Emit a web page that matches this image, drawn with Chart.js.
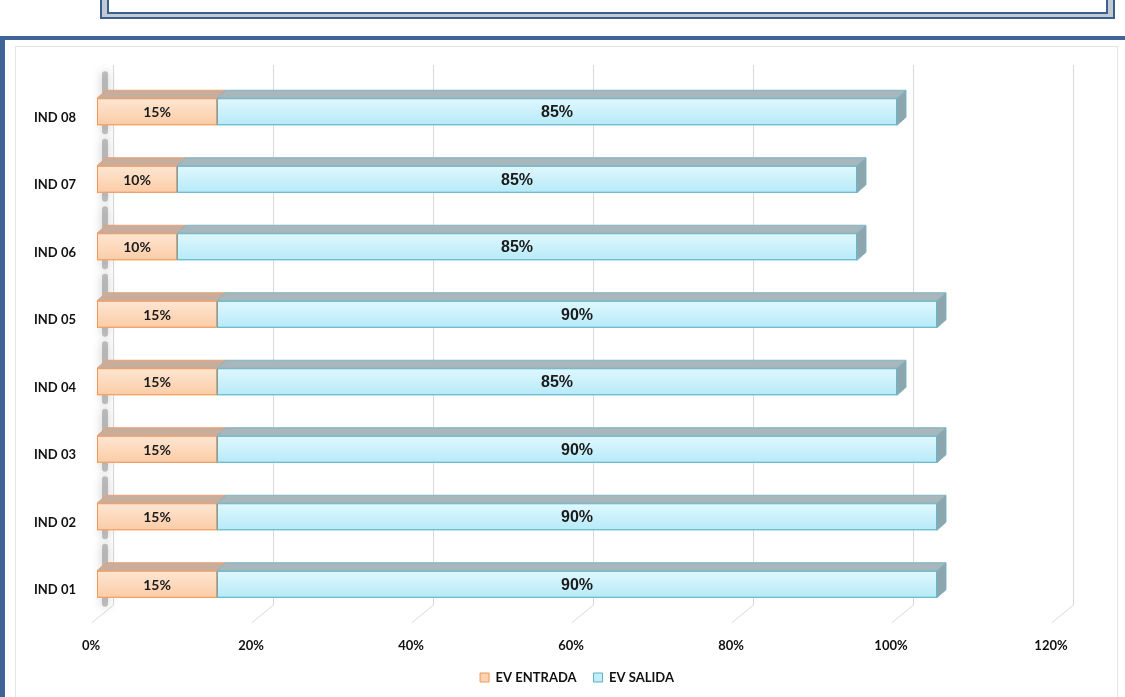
<!DOCTYPE html>
<html><head><meta charset="utf-8">
<script src="https://cdn.jsdelivr.net/npm/chart.js@4.4.0/dist/chart.umd.min.js"></script>
<style>
html,body{margin:0;padding:0;background:#fff;width:1125px;height:697px;overflow:hidden;position:relative}
#topbox{position:absolute;left:100px;top:-12px;width:1011px;height:27px;border:2px solid #3C5F92;background:#C3C9D2;}
#topinner{position:absolute;left:5px;right:5px;top:-2px;bottom:3px;border:2px solid #3C5F92;background:#fff}
#frame{position:absolute;left:0;top:36px;width:1130px;height:700px;border-top:4px solid #3F6498;border-left:5px solid #3F6498;box-sizing:border-box}
#plotborder{position:absolute;left:15px;top:46px;width:1101px;height:670px;border:1px solid #E4E4E4;}
#c{position:absolute;left:0;top:0}
</style>
</head><body>
<div id="topbox"><div id="topinner"></div></div>
<div id="frame"></div>
<div id="plotborder"></div>
<canvas id="c" width="1125" height="697"></canvas>
<script>
const categories = ['IND 01','IND 02','IND 03','IND 04','IND 05','IND 06','IND 07','IND 08'];
const evEntrada = [15,15,15,15,15,10,10,15];
const evSalida  = [90,90,90,85,90,85,85,85];
const seriesNames = ['EV ENTRADA','EV SALIDA'];
const xTickStep = 20;
const xMax = 120;

const DX = 9, DY = 8; // bar depth
const faceStyles = [
  {top:'#C8AC9C', topEdge:'#E5A274', end:'#B58E78', g0:'#FEE6D3', g1:'#FBCCA6', edge:'#F0975A',
   font:'bold 14px Lato', color:'#1b1b1b'},
  {top:'#A8B7BC', topEdge:'#7DB5C4', end:'#8DA6AD', g0:'#E0F8FE', g1:'#B6EAF8', edge:'#5AAFC6',
   font:'bold 16px "Liberation Sans", Arial', color:'#1b1b1b'}
];

const wall3d = {
  id:'wall3d',
  beforeDatasetsDraw(chart){
    const {ctx, chartArea:ca, scales:{x}} = chart;
    ctx.save();
    ctx.strokeStyle = '#D9D9D9';
    ctx.lineWidth = 1;
    for(let v=0; v<=xMax; v+=xTickStep){
      const xf = Math.round(x.getPixelForValue(v)) + 0.5;
      ctx.beginPath();
      ctx.moveTo(xf+16, ca.top-13);
      ctx.lineTo(xf+16, ca.bottom-13);
      ctx.lineTo(xf-6, ca.bottom+5);
      ctx.stroke();
    }
    const meta = chart.getDatasetMeta(0);
    ctx.strokeStyle = 'rgba(110,110,110,0.4)';
    ctx.shadowColor = 'rgba(70,70,70,0.75)';
    ctx.shadowBlur = 10;
    ctx.lineWidth = 6;
    ctx.lineCap = 'round';
    meta.data.forEach(el=>{
      const top = el.y - el.height/2;
      ctx.beginPath();
      ctx.moveTo(x.getPixelForValue(0)+8, top-24);
      ctx.lineTo(x.getPixelForValue(0)+8, top+el.height+6);
      ctx.stroke();
    });
    ctx.restore();
  },
  afterDatasetsDraw(chart){
    const {ctx} = chart;
    ctx.save();
    chart.data.datasets.forEach((ds, di)=>{
      const meta = chart.getDatasetMeta(di);
      const st = faceStyles[di];
      meta.data.forEach((el, i)=>{
        const x0 = Math.min(el.x, el.base), x1 = Math.max(el.x, el.base);
        const y0 = el.y - el.height/2, y1 = el.y + el.height/2;
        const g = ctx.createLinearGradient(0, y0, 0, y1);
        g.addColorStop(0, st.g0); g.addColorStop(1, st.g1);
        ctx.fillStyle = g;
        ctx.fillRect(x0, y0, x1-x0, y1-y0);
        ctx.strokeStyle = st.edge; ctx.lineWidth = 1;
        ctx.strokeRect(x0+0.5, y0+0.5, x1-x0-1, y1-y0-1);
        ctx.beginPath();
        ctx.moveTo(x0, y0); ctx.lineTo(x1, y0);
        ctx.lineTo(x1+DX, y0-DY); ctx.lineTo(x0+DX, y0-DY); ctx.closePath();
        ctx.fillStyle = st.top; ctx.fill();
        ctx.strokeStyle = st.topEdge; ctx.stroke();
        if(di === chart.data.datasets.length-1){
          ctx.beginPath();
          ctx.moveTo(x1, y0); ctx.lineTo(x1+DX, y0-DY);
          ctx.lineTo(x1+DX, y1-DY); ctx.lineTo(x1, y1); ctx.closePath();
          ctx.fillStyle = st.end; ctx.fill();
          ctx.strokeStyle = st.topEdge; ctx.stroke();
        }
        ctx.fillStyle = st.color;
        ctx.font = st.font;
        ctx.textAlign = 'center'; ctx.textBaseline = 'middle';
        ctx.fillText(ds.data[i] + '%', (x0+x1)/2, el.y+1);
      });
    });
    ctx.restore();
  }
};

const tickFont = {family:'Lato', weight:'bold', size:13};
new Chart(document.getElementById('c'), {
  type:'bar',
  data:{
    labels: categories,
    datasets:[
      {label:seriesNames[0], data:evEntrada, backgroundColor:'#FCD3B1', borderColor:'#F0975A', borderWidth:1, borderSkipped:false},
      {label:seriesNames[1], data:evSalida, backgroundColor:'#C4EEFA', borderColor:'#5AAFC6', borderWidth:1, borderSkipped:false}
    ]
  },
  options:{
    indexAxis:'y',
    responsive:false,
    animation:false,
    events:[],
    layout:{padding:{left:20, right:68, top:78, bottom:3}},
    datasets:{bar:{barPercentage:0.4, categoryPercentage:1}},
    scales:{
      x:{stacked:true, min:0, max:xMax,
         grid:{display:false, drawTicks:false}, border:{display:false},
         ticks:{stepSize:xTickStep, callback:v=>v+'%', font:tickFont, color:'#111', padding:20, labelOffset:-6},
         afterFit(s){ s.height = 36; }},
      y:{stacked:true, reverse:true,
         grid:{display:false, drawTicks:false}, border:{display:false},
         ticks:{font:tickFont, color:'#111', padding:21, labelOffset:6},
         afterFit(s){ s.width = 77; }}
    },
    plugins:{
      legend:{position:'bottom', fullSize:false,
        labels:{boxWidth:9, boxHeight:9, font:tickFont, color:'#111', padding:17}},
      tooltip:{enabled:false}
    }
  },
  plugins:[wall3d]
});
</script>
</body></html>
